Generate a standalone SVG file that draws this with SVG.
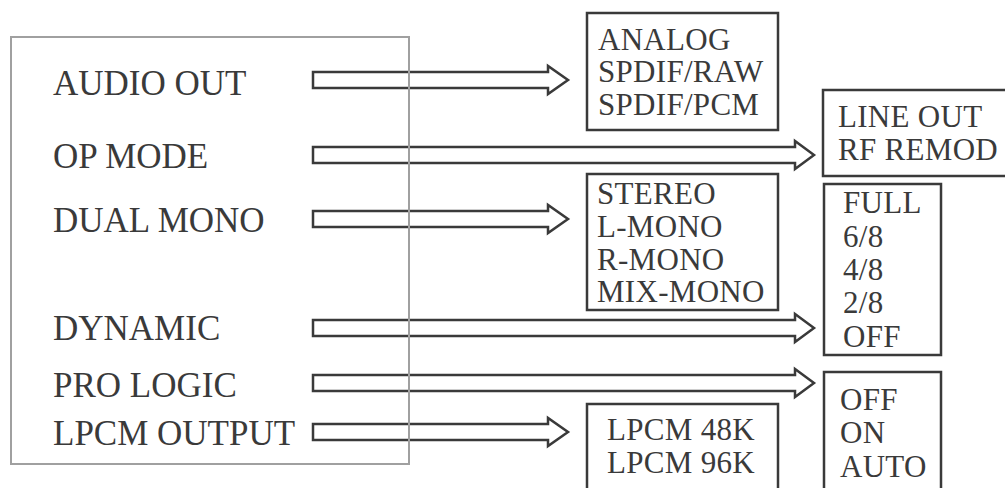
<svg xmlns="http://www.w3.org/2000/svg" width="1005" height="488" viewBox="0 0 1005 488">
<style>
  .lbl{font-family:'Liberation Serif','Times New Roman',Times,serif;font-size:35px;fill:#3a3a3a;}
  .opt{font-family:'Liberation Serif','Times New Roman',Times,serif;font-size:31px;fill:#3a3a3a;letter-spacing:0.3px;}
  .box{fill:none;stroke:#3a3a3a;stroke-width:2.5;}
  .main{fill:none;stroke:#a0a0a0;stroke-width:2;}
  .arr{fill:none;stroke:#3a3a3a;stroke-width:2.5;stroke-linejoin:miter;}
</style>
<rect width="1005" height="488" fill="#ffffff"/>
<g id="connectors">
  <path class="arr" d="M313,72 H548 V66 L568,80 L548,94 V88 H313 Z"/>
  <path class="arr" d="M313,147 H795 V141 L814,155 L795,169 V163 H313 Z"/>
  <path class="arr" d="M313,211 H548 V205 L568,219 L548,233 V227 H313 Z"/>
  <path class="arr" d="M313,320 H795 V314 L814,328 L795,342 V336 H313 Z"/>
  <path class="arr" d="M313,375 H795 V369 L814,383 L795,397 V391 H313 Z"/>
  <path class="arr" d="M313,424 H548 V418 L568,432 L548,446 V440 H313 Z"/>
</g>
<g id="settings">
  <rect class="main" x="11" y="37" width="398" height="427"/>
  <text class="lbl" x="53" y="95">AUDIO OUT</text>
  <text class="lbl" x="53" y="168">OP MODE</text>
  <text class="lbl" x="53" y="232">DUAL MONO</text>
  <text class="lbl" x="53" y="340">DYNAMIC</text>
  <text class="lbl" x="53" y="397">PRO LOGIC</text>
  <text class="lbl" x="53" y="445">LPCM OUTPUT</text>
</g>
<g id="audio-out-options">
  <rect class="box" x="587" y="13" width="191" height="117"/>
  <text class="opt" x="598" y="50">ANALOG</text>
  <text class="opt" x="598" y="82">SPDIF/RAW</text>
  <text class="opt" x="598" y="115">SPDIF/PCM</text>
</g>
<g id="op-mode-options">
  <rect class="box" x="823" y="90" width="190" height="86"/>
  <text class="opt" x="838" y="127">LINE OUT</text>
  <text class="opt" x="838" y="160">RF REMOD</text>
</g>
<g id="dual-mono-options">
  <rect class="box" x="587" y="174" width="191" height="136"/>
  <text class="opt" x="597" y="204">STEREO</text>
  <text class="opt" x="597" y="237">L-MONO</text>
  <text class="opt" x="597" y="270">R-MONO</text>
  <text class="opt" x="597" y="302">MIX-MONO</text>
</g>
<g id="dynamic-options">
  <rect class="box" x="824" y="184" width="117" height="171"/>
  <text class="opt" x="843" y="213">FULL</text>
  <text class="opt" x="843" y="247">6/8</text>
  <text class="opt" x="843" y="280">4/8</text>
  <text class="opt" x="843" y="313">2/8</text>
  <text class="opt" x="843" y="347">OFF</text>
</g>
<g id="pro-logic-options">
  <rect class="box" x="824" y="372" width="117" height="130"/>
  <text class="opt" x="840" y="410">OFF</text>
  <text class="opt" x="840" y="443">ON</text>
  <text class="opt" x="840" y="477">AUTO</text>
</g>
<g id="lpcm-options">
  <rect class="box" x="587" y="404" width="191" height="100"/>
  <text class="opt" x="607" y="440">LPCM 48K</text>
  <text class="opt" x="607" y="473">LPCM 96K</text>
</g>
</svg>
